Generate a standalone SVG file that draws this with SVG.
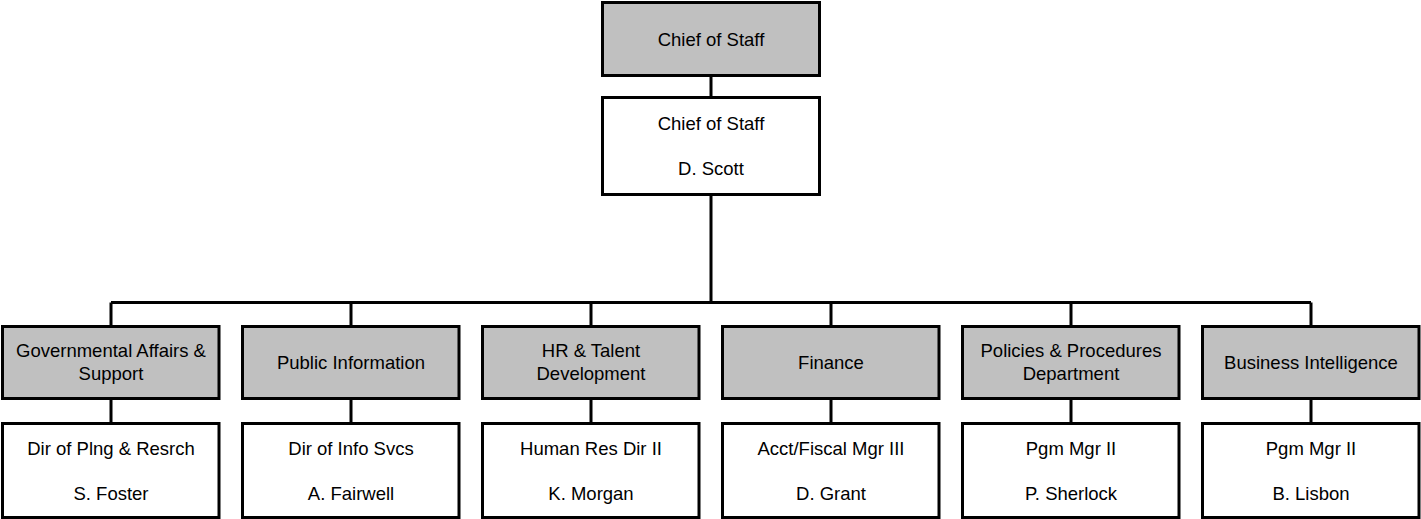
<svg xmlns="http://www.w3.org/2000/svg" width="1421" height="519" viewBox="0 0 1421 519">
<style>
.box{stroke:#000;stroke-width:3}
.g{fill:#c0c0c0}
.w{fill:#fff}
text{font-family:"Liberation Sans",Arial,sans-serif;font-size:18.5px;fill:#000;text-anchor:middle}
.c{fill:none;stroke:#000;stroke-width:3}
</style>
<rect width="1421" height="519" fill="#fff"/>
<g id="connectors">
<path class="c" d="M711 75V98M711 194.5V302.5M111 302.5H1311M111 302.5V326.5M351 302.5V326.5M591 302.5V326.5M831 302.5V326.5M1071 302.5V326.5M1311 302.5V326.5M111 398.5V423.5M351 398.5V423.5M591 398.5V423.5M831 398.5V423.5M1071 398.5V423.5M1311 398.5V423.5"/>
</g>
<g id="n-top"><rect class="box g" x="602.5" y="2.5" width="217" height="73"/><text x="711" y="45.5">Chief of Staff</text></g>
<g id="n-cos"><rect class="box w" x="602.5" y="97.5" width="217" height="97"/><text x="711" y="129.5">Chief of Staff</text><text x="711" y="175">D. Scott</text></g>

<g id="n-gov"><rect class="box g" x="2.5" y="326.5" width="216.5" height="72"/><text x="111" y="357">Governmental Affairs &amp;</text><text x="111" y="380">Support</text></g>
<g id="n-pub"><rect class="box g" x="242.5" y="326.5" width="216.5" height="72"/><text x="351" y="369">Public Information</text></g>
<g id="n-hr"><rect class="box g" x="482.5" y="326.5" width="216.5" height="72"/><text x="591" y="357">HR &amp; Talent</text><text x="591" y="380">Development</text></g>
<g id="n-fin"><rect class="box g" x="722.5" y="326.5" width="216.5" height="72"/><text x="831" y="369">Finance</text></g>
<g id="n-pol"><rect class="box g" x="962.5" y="326.5" width="216.5" height="72"/><text x="1071" y="357">Policies &amp; Procedures</text><text x="1071" y="380">Department</text></g>
<g id="n-bi"><rect class="box g" x="1202.5" y="326.5" width="216.5" height="72"/><text x="1311" y="369">Business Intelligence</text></g>

<g id="p-gov"><rect class="box w" x="2.5" y="423.5" width="216.5" height="94"/><text x="111" y="454.5">Dir of Plng &amp; Resrch</text><text x="111" y="499.5">S. Foster</text></g>
<g id="p-pub"><rect class="box w" x="242.5" y="423.5" width="216.5" height="94"/><text x="351" y="454.5">Dir of Info Svcs</text><text x="351" y="499.5">A. Fairwell</text></g>
<g id="p-hr"><rect class="box w" x="482.5" y="423.5" width="216.5" height="94"/><text x="591" y="454.5">Human Res Dir II</text><text x="591" y="499.5">K. Morgan</text></g>
<g id="p-fin"><rect class="box w" x="722.5" y="423.5" width="216.5" height="94"/><text x="831" y="454.5">Acct/Fiscal Mgr III</text><text x="831" y="499.5">D. Grant</text></g>
<g id="p-pol"><rect class="box w" x="962.5" y="423.5" width="216.5" height="94"/><text x="1071" y="454.5">Pgm Mgr II</text><text x="1071" y="499.5">P. Sherlock</text></g>
<g id="p-bi"><rect class="box w" x="1202.5" y="423.5" width="216.5" height="94"/><text x="1311" y="454.5">Pgm Mgr II</text><text x="1311" y="499.5">B. Lisbon</text></g>
</svg>
